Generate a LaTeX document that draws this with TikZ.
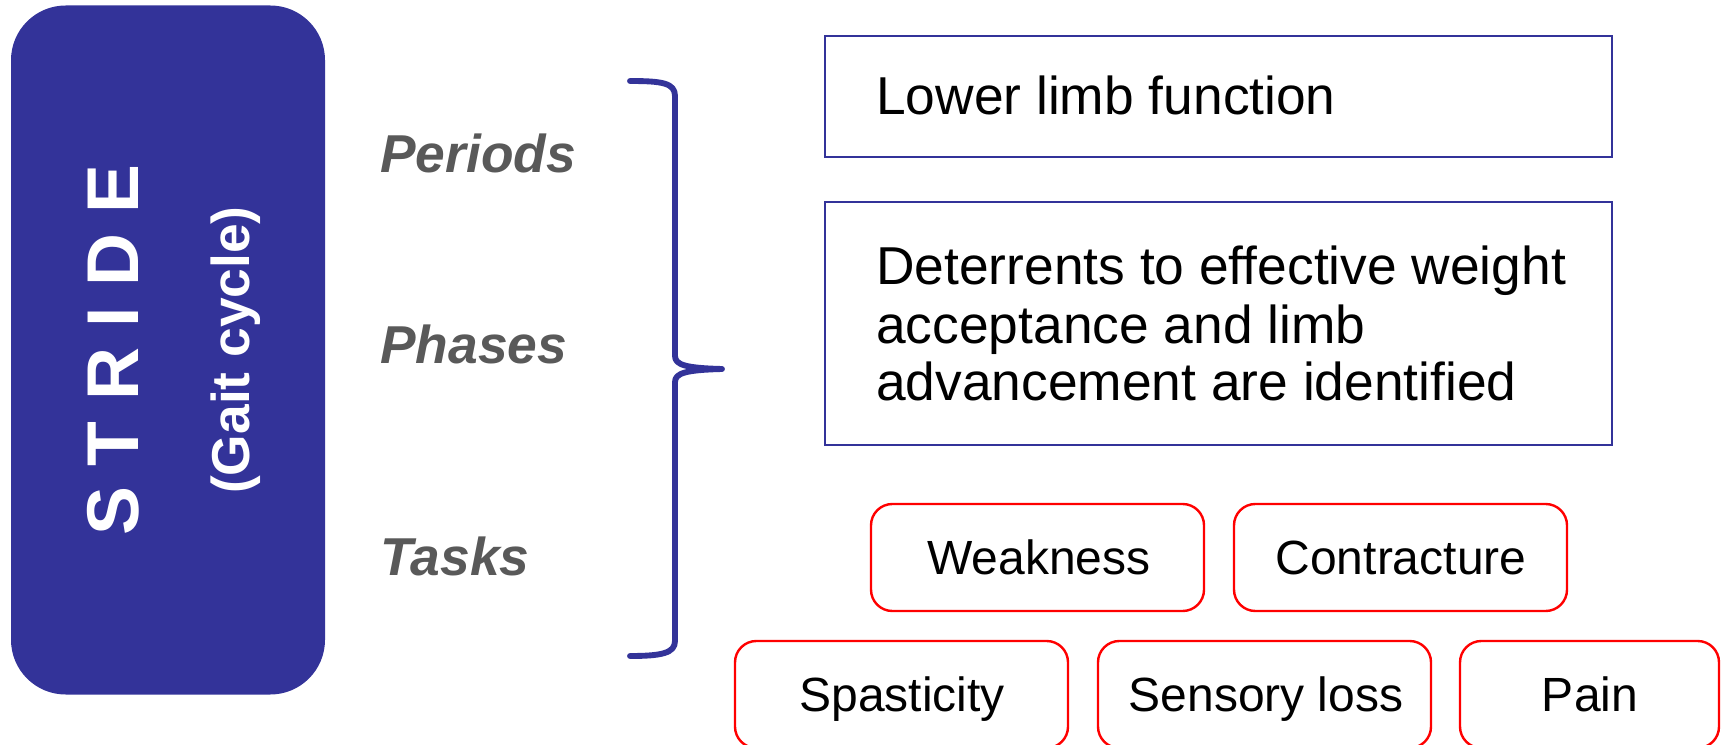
\documentclass[tikz,border=0pt]{standalone}
\usepackage{fontspec}
\setmainfont{Liberation Sans}
\definecolor{navy}{HTML}{333399}
\definecolor{txtgray}{HTML}{595959}
\definecolor{boxred}{HTML}{FF0000}
\begin{document}
\begin{tikzpicture}[x=0.75pt,y=-0.75pt,
  bluebox/.style={draw=navy,line width=1.5pt,minimum width=787*0.75pt,inner sep=0pt},
  redbox/.style={draw=boxred,line width=1.8pt,rounded corners=16pt,minimum width=333*0.75pt,minimum height=107*0.75pt,inner sep=0pt},
  boxtext/.style={font=\fontsize{40}{43}\selectfont,inner sep=0pt},
  redtext/.style={font=\fontsize{36}{40}\selectfont,inner sep=0pt,anchor=base},
  sidelabel/.style={font=\fontsize{40}{43}\selectfont\bfseries\itshape,text=txtgray,inner sep=0pt,anchor=base west},
  bracestyle/.style={draw=navy,line width=4.4pt,line cap=round,line join=round}]
\useasboundingbox (0,0) rectangle (1723,745);
\clip (0,0) rectangle (1723,745);
% left box
\node[fill=navy,rounded corners=41pt,minimum width=314*0.75pt,minimum height=689*0.75pt,inner sep=0pt] (stride) at (168,350) {};
\node[rotate=90,text=white,font=\fontsize{55}{60}\selectfont\bfseries,inner sep=0pt] (stridet) at (113,350) {S T R I D E};
\node[rotate=90,text=white,font=\fontsize{40}{43}\selectfont\bfseries,inner sep=0pt] (gait) at (236,350) {(Gait cycle)};
% side labels
\node[sidelabel] (periods) at (380,173) {Periods};
\node[sidelabel] (phases) at (380,363) {Phases};
\node[sidelabel] (tasks) at (380,575) {Tasks};
% brace
\coordinate (btop) at (630,81);
\coordinate (btip) at (722,369);
\coordinate (bbot) at (630,656);
\draw[bracestyle] (btop) .. controls (662,81) and (675,83) .. (675,96) -- (675,356) .. controls (675,365) and (686,368) .. (btip) .. controls (686,370) and (675,373) .. (675,382) -- (675,641) .. controls (675,653) and (662,656) .. (bbot);
% blue boxes
\node[bluebox,minimum height=121*0.75pt] (lower) at (1218.5,96.5) {};
\node[boxtext,anchor=base west] (lowert) at (876,115) {Lower limb function};
\node[bluebox,minimum height=243*0.75pt] (deter) at (1218.5,323.5) {};
\node[boxtext,anchor=base west] (detert1) at (876,285) {Deterrents to effective weight};
\node[boxtext,anchor=base west] (detert2) at (876,343) {acceptance and limb};
\node[boxtext,anchor=base west] (detert3) at (876,400) {advancement are identified};
% red boxes
\node[redbox] (weak) at (1037.5,557.5) {};
\node[redtext] (weakt) at (1039,574) {Weakness};
\node[redbox] (contr) at (1400.5,557.5) {};
\node[redtext] (contrt) at (1401,574) {Contracture};
\node[redbox] (spas) at (901.5,694.5) {};
\node[redtext] (spast) at (902,711) {Spasticity};
\node[redbox] (sens) at (1264.5,694.5) {};
\node[redtext] (senst) at (1266,711) {Sensory loss};
\node[redbox,minimum width=259*0.75pt] (pain) at (1589.5,694.5) {};
\node[redtext] (paint) at (1590,711) {Pain};
\end{tikzpicture}
\end{document}
